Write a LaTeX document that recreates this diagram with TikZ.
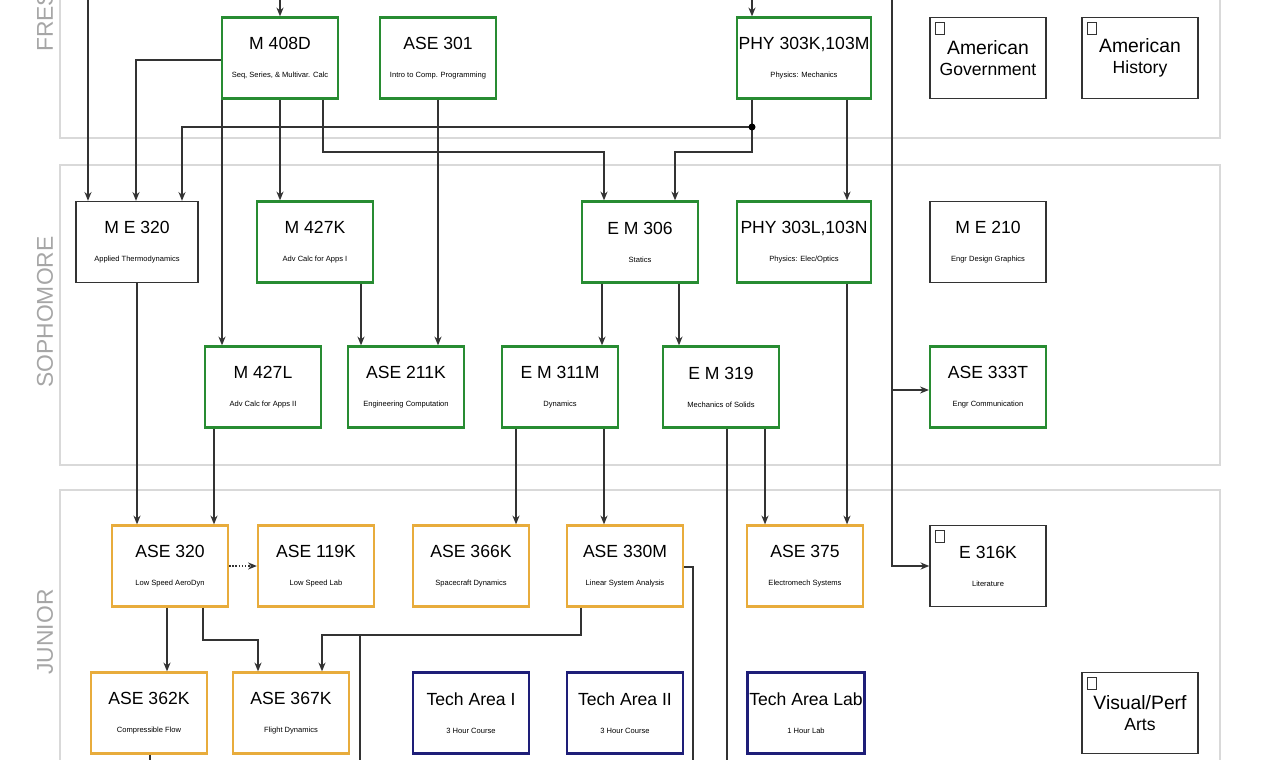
\documentclass[tikz,border=0pt]{standalone}
\usepackage{fontspec}
\setmainfont{Liberation Sans}
\definecolor{crsgreen}{RGB}{40,140,50}
\definecolor{crsorange}{RGB}{232,172,60}
\definecolor{crsblue}{RGB}{30,30,120}
\usetikzlibrary{arrows.meta,positioning,calc}
\newcommand{\crs}[2]{{\fontsize{10}{11}\selectfont #1}\\[4pt]{\fontsize{4.3}{5}\selectfont #2}}

\begin{document}
\begin{tikzpicture}[x=0.02cm, y=-0.02cm,
    box/.style={draw, fill=white, minimum width=2.32cm, minimum height=1.62cm, align=center, inner sep=1pt},
    core/.style={box, draw=crsgreen, line width=1.3pt},
    major/.style={box, draw=crsorange, line width=1.3pt},
    tech/.style={box, draw=crsblue, line width=1.5pt},
    gen/.style={box, draw=black!80, line width=0.8pt},
    panel/.style={draw=black!15, line width=1.5pt},
    year/.style={text=black!35, font=\fontsize{13}{13}\selectfont, rotate=90},
    pre/.style={-{Stealth[length=5pt,width=4pt]}, black!80, line width=0.8pt}]
    \useasboundingbox (0,0) rectangle (1278,760);

    % Year panels
    \draw[panel] (60,-10) rectangle (1220,138);
    \draw[panel] (60,165) rectangle (1220,465);
    \draw[panel] (60,490) rectangle (1220,780);
    \node[year, anchor=west] at (45,58) {FRESHMAN};
    \node[year] at (45,312) {SOPHOMORE};
    \node[year] at (45,632) {JUNIOR};

    % Freshman
    \node[core] (m408d) at (280,58) {\crs{M 408D}{Seq, Series, \& Multivar. Calc}};
    \node[core] (ase301) at (438,58) {\crs{ASE 301}{Intro to Comp. Programming}};
    \node[core, minimum width=2.68cm] (phy303k) at (804,58) {\crs{PHY 303K,103M}{Physics: Mechanics}};
    \node[gen] (amgov) at (988,58) {\fontsize{11}{13}\selectfont American\\ Government};
    \node[gen] (amhist) at (1140,58) {\fontsize{11}{13}\selectfont American\\ History};

    % Sophomore
    \node[gen, minimum width=2.44cm] (me320) at (137,242) {\crs{M E 320}{Applied Thermodynamics}};
    \node[core] (m427k) at (315,242) {\crs{M 427K}{Adv Calc for Apps I}};
    \node[core] (em306) at (640,242) {\crs{E M 306}{Statics}};
    \node[core, minimum width=2.68cm] (phy303l) at (804,242) {\crs{PHY 303L,103N}{Physics: Elec/Optics}};
    \node[gen] (me210) at (988,242) {\crs{M E 210}{Engr Design Graphics}};
    \node[core] (m427l) at (263,387) {\crs{M 427L}{Adv Calc for Apps II}};
    \node[core] (ase211k) at (406,387) {\crs{ASE 211K}{Engineering Computation}};
    \node[core] (em311m) at (560,387) {\crs{E M 311M}{Dynamics}};
    \node[core] (em319) at (721,387) {\crs{E M 319}{Mechanics of Solids}};
    \node[core] (ase333t) at (988,387) {\crs{ASE 333T}{Engr Communication}};

    % Junior
    \node[major] (ase320) at (170,566) {\crs{ASE 320}{Low Speed AeroDyn}};
    \node[major] (ase119k) at (316,566) {\crs{ASE 119K}{Low Speed Lab}};
    \node[major] (ase366k) at (471,566) {\crs{ASE 366K}{Spacecraft Dynamics}};
    \node[major] (ase330m) at (625,566) {\crs{ASE 330M}{Linear System Analysis}};
    \node[major] (ase375) at (805,566) {\crs{ASE 375}{Electromech Systems}};
    \node[gen] (e316k) at (988,566) {\crs{E 316K}{Literature}};
    \node[major] (ase362k) at (149,713) {\crs{ASE 362K}{Compressible Flow}};
    \node[major] (ase367k) at (291,713) {\crs{ASE 367K}{Flight Dynamics}};
    \node[tech] (tech1) at (471,713) {\crs{Tech Area I}{3 Hour Course}};
    \node[tech] (tech2) at (625,713) {\crs{Tech Area II}{3 Hour Course}};
    \node[tech] (techlab) at (806,713) {\crs{Tech Area Lab}{1 Hour Lab}};
    \node[gen] (arts) at (1140,713) {\fontsize{11}{13}\selectfont Visual/Perf\\ Arts};

    % Check boxes
    \foreach \n in {amgov,amhist,e316k,arts}
        \draw[black!80, line width=0.6pt] ([shift={(6,6)}]\n.north west) rectangle ++(9,12);

    % Prerequisites
    \coordinate (top1) at (280,0);
    \coordinate (top2) at (752,0);
    \coordinate (top3) at (88,0);
    \coordinate (top4) at (892,0);
    \draw[pre] (top1) -- (m408d);
    \draw[pre] (top2) -- (phy303k.north -| 752,0);
    \draw[pre] (top3) -- (me320.north -| 88,0);
    \draw[pre] (m408d.west |- 0,60) -| (me320.north -| 136,0);
    \draw[pre] (phy303k.south -| 752,0) |- (182,127) -- (me320.north -| 182,0);
    \draw[pre] (phy303k.south -| 752,0) |- (675,152) -- (em306.north -| 675,0);
    \fill[black] (752,127) circle (3.5);
    \draw[pre] (m408d.south -| 222,0) -- (m427l.north -| 222,0);
    \draw[pre] (m408d) -- (m427k.north -| 280,0);
    \draw[pre] (m408d.south -| 323,0) |- (604,152) -- (em306.north -| 604,0);
    \draw[pre] (ase301) -- (ase211k.north -| 438,0);
    \draw[pre] (m427k.south -| 361,0) -- (ase211k.north -| 361,0);
    \draw[pre] (phy303k.south -| 847,0) -- (phy303l.north -| 847,0);
    \draw[pre] (em306.south -| 602,0) -- (em311m.north -| 602,0);
    \draw[pre] (em306.south -| 679,0) -- (em319.north -| 679,0);
    \draw[pre] (phy303l.south -| 847,0) -- (ase375.north -| 847,0);
    \draw[pre] (me320) -- (ase320.north -| 137,0);
    \draw[pre] (m427l.south -| 214,0) -- (ase320.north -| 214,0);
    \draw[pre] (em311m.south -| 516,0) -- (ase366k.north -| 516,0);
    \draw[pre] (em311m.south -| 604,0) -- (ase330m.north -| 604,0);
    \draw[pre] (em319.south -| 765,0) -- (ase375.north -| 765,0);
    \draw[black!80, line width=0.8pt] (em319.south -| 727,0) -- (727,770);
    \draw[black!80, line width=0.8pt] (top4) -- (892,390);
    \draw[pre] (892,390) -- (ase333t.west |- 0,390);
    \draw[pre] (892,390) |- (e316k);
    \draw[pre, densely dotted, line width=1pt] (ase320) -- (ase119k);
    \draw[pre] (ase320.south -| 167,0) -- (ase362k.north -| 167,0);
    \draw[pre] (ase320.south -| 203,0) |- (258,640) -- (ase367k.north -| 258,0);
    \draw[pre] (ase330m.south -| 581,0) |- (322,635) -- (ase367k.north -| 322,0);
    \draw[black!80, line width=0.8pt] (360,635) -- (360,770);
    \draw[black!80, line width=0.8pt] (ase330m.east |- 0,567) -| (693,770);
    \draw[black!80, line width=0.8pt] (ase362k.south -| 150,0) -- (150,770);
\end{tikzpicture}
\end{document}
